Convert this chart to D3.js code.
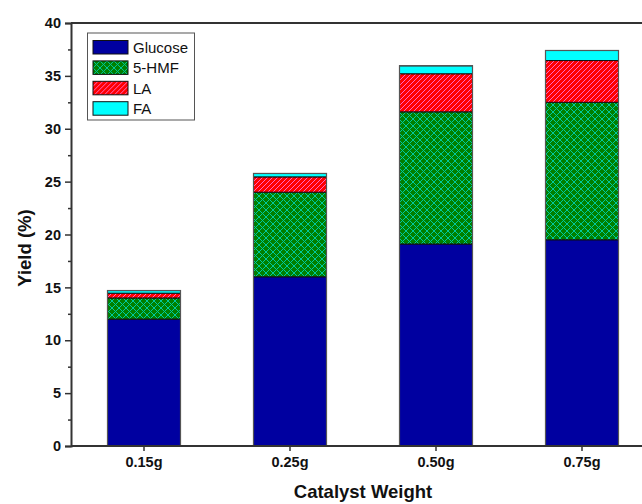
<!DOCTYPE html>
<html>
<head>
<meta charset="utf-8">
<script src="https://cdn.jsdelivr.net/npm/d3@7/dist/d3.min.js"></script>
<style>
  body { margin: 0; background: #fff; }
  svg { display: block; }
</style>
</head>
<body>
<svg id="chart" width="642" height="504"></svg>
<script>
// data
const categories = ["0.15g", "0.25g", "0.50g", "0.75g"];
const seriesNames = ["Glucose", "5-HMF", "LA", "FA"];
const glucose = [12.0, 16.0, 19.1, 19.5];
const hmf = [2.0, 8.0, 12.5, 13.0];
const la = [0.45, 1.45, 3.6, 3.95];
const fa = [0.25, 0.32, 0.75, 0.95];
const yTicks = [0, 5, 10, 15, 20, 25, 30, 35, 40];

const FONT = "Liberation Sans, Arial, sans-serif";
const svg = d3.select("#chart");
const margin = { top: 23, left: 71, bottom: 58 };
const innerHeight = 504 - margin.top - margin.bottom;
const plotRight = 655;   // frame runs past the window edge
const visibleRight = 642;

const rows = categories.map((c, i) => ({
  cat: c, "Glucose": glucose[i], "5-HMF": hmf[i], "LA": la[i], "FA": fa[i]
}));
const stack = d3.stack().keys(seriesNames)(rows);

const x = d3.scaleBand()
  .domain(categories)
  .range([margin.left, plotRight])
  .paddingInner(0.5)
  .paddingOuter(0.25);
const y = d3.scaleLinear().domain([0, 40]).range([margin.top + innerHeight, margin.top]);

// patterns
const defs = svg.append("defs");
const hmfPat = defs.append("pattern")
  .attr("id", "hmf").attr("patternUnits", "userSpaceOnUse")
  .attr("width", 7).attr("height", 7);
hmfPat.append("rect").attr("width", 7).attr("height", 7).attr("fill", "#008000");
hmfPat.append("path").attr("d", "M0,0L7,7M7,0L0,7M-1,6L1,8M6,-1L8,1M-1,1L1,-1M6,8L8,6")
  .attr("stroke", "#00c8a0").attr("stroke-width", 1);

const laPat = defs.append("pattern")
  .attr("id", "la").attr("patternUnits", "userSpaceOnUse")
  .attr("width", 5).attr("height", 5);
laPat.append("rect").attr("width", 5).attr("height", 5).attr("fill", "#ff0000");
laPat.append("path").attr("d", "M0,5L5,0M-1,1L1,-1M4,6L6,4")
  .attr("stroke", "#ff66c4").attr("stroke-width", 1);

const fills = { "Glucose": "#0000a0", "5-HMF": "url(#hmf)", "LA": "url(#la)", "FA": "#00ffff" };

// bars
stack.forEach(layer => {
  svg.append("g")
    .selectAll("rect")
    .data(layer)
    .enter()
    .append("rect")
    .attr("x", d => x(d.data.cat))
    .attr("width", x.bandwidth())
    .attr("y", d => y(d[1]))
    .attr("height", d => y(d[0]) - y(d[1]))
    .attr("fill", fills[layer.key])
    .attr("stroke", "#111")
    .attr("stroke-width", 1);
});

// outer outline of each bar
const total = d => d.Glucose + d["5-HMF"] + d.LA + d.FA;
svg.append("g")
  .selectAll("rect")
  .data(rows)
  .enter()
  .append("rect")
  .attr("x", d => x(d.cat))
  .attr("width", x.bandwidth())
  .attr("y", d => y(total(d)))
  .attr("height", d => y(0) - y(total(d)))
  .attr("fill", "none")
  .attr("stroke", "#555")
  .attr("stroke-width", 1.2);

// frame top line
svg.append("line")
  .attr("x1", margin.left).attr("x2", visibleRight)
  .attr("y1", y(40)).attr("y2", y(40))
  .attr("stroke", "#333").attr("stroke-width", 2);

// y axis
const yAxis = svg.append("g")
  .attr("transform", `translate(${margin.left},0)`)
  .call(d3.axisLeft(y).tickValues(yTicks).tickSize(6).tickPadding(4));
svg.append("g")
  .attr("transform", `translate(${margin.left},0)`)
  .call(d3.axisLeft(y).tickValues(d3.range(2.5, 40, 5)).tickSize(3).tickFormat(""))
  .call(g => g.select(".domain").remove())
  .selectAll("line").attr("stroke", "#333").attr("stroke-width", 1.5);
yAxis.select(".domain").attr("stroke", "#333").attr("stroke-width", 2);
yAxis.selectAll(".tick line").attr("stroke", "#333").attr("stroke-width", 1.5);
yAxis.selectAll("text")
  .attr("font-size", 14.5).attr("font-weight", "bold")
  .attr("font-family", FONT).attr("fill", "#111");

// x axis
const xAxis = svg.append("g")
  .attr("transform", `translate(0,${y(0)})`)
  .call(d3.axisBottom(x).tickSize(5).tickPadding(6).tickSizeOuter(0));
xAxis.select(".domain").attr("stroke", "#333").attr("stroke-width", 2)
  .attr("d", `M${margin.left},0H${visibleRight}`);
xAxis.selectAll(".tick line").attr("stroke", "#333").attr("stroke-width", 1.5);
xAxis.selectAll("text")
  .attr("font-size", 14.5).attr("font-weight", "bold")
  .attr("font-family", FONT).attr("fill", "#111");

// axis titles
svg.append("text")
  .attr("x", 363).attr("y", 498)
  .attr("text-anchor", "middle")
  .attr("font-family", FONT)
  .attr("font-size", 18.5).attr("font-weight", "bold").attr("fill", "#111")
  .text("Catalyst Weight");
svg.append("text")
  .attr("transform", "translate(31,248) rotate(-90)")
  .attr("text-anchor", "middle")
  .attr("font-family", FONT)
  .attr("font-size", 18.5).attr("font-weight", "bold").attr("fill", "#111")
  .text("Yield (%)");

// legend
const legend = svg.append("g").attr("transform", "translate(87.5,33)");
legend.append("rect")
  .attr("width", 107).attr("height", 87)
  .attr("fill", "#fff").attr("stroke", "#555").attr("stroke-width", 1);
const items = legend.selectAll("g.item")
  .data(seriesNames)
  .enter()
  .append("g")
  .attr("class", "item")
  .attr("transform", (d, i) => `translate(5.5,${7.5 + i * 20.4})`);
items.append("rect")
  .attr("width", 35).attr("height", 13.5)
  .attr("fill", d => fills[d])
  .attr("stroke", "#111").attr("stroke-width", 1);
items.append("text")
  .attr("x", 40).attr("y", 12.5)
  .attr("font-family", FONT)
  .attr("font-size", 15).attr("fill", "#111")
  .text(d => d);
</script>
</body>
</html>
